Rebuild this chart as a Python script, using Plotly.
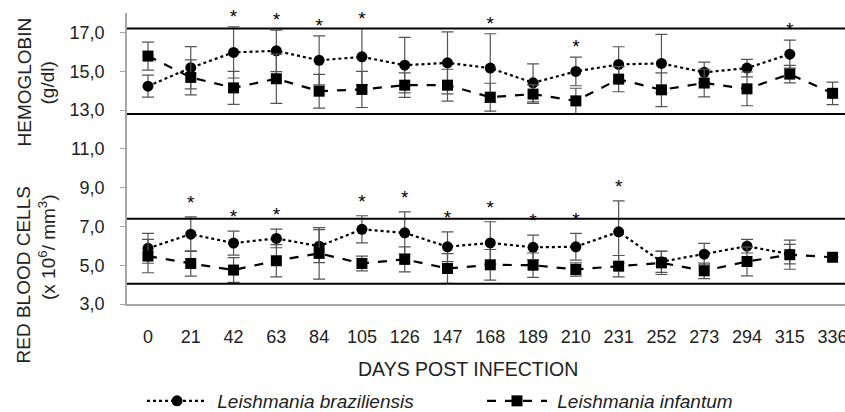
import plotly.graph_objects as go

days = [0, 21, 42, 63, 84, 105, 126, 147, 168, 189, 210, 231, 252, 273, 294, 315, 336]

braz_hb = [14.23, 15.18, 15.97, 16.05, 15.56, 15.74, 15.31, 15.43, 15.16, 14.40, 14.99, 15.35, 15.40, 14.94, 15.16, 15.88, None]
braz_hb_sd = [0.57, 1.09, 1.32, 1.07, 1.26, 1.46, 1.43, 1.60, 1.77, 0.98, 0.74, 0.91, 1.50, 0.53, 0.45, 0.72, None]
inf_hb = [15.78, 14.68, 14.14, 14.61, 13.97, 14.06, 14.28, 14.28, 13.66, 13.82, 13.47, 14.59, 14.04, 14.39, 14.09, 14.85, 13.86]
inf_hb_sd = [0.72, 0.90, 0.85, 1.27, 0.87, 0.93, 0.63, 0.82, 0.72, 0.48, 0.65, 0.65, 0.87, 0.71, 0.87, 0.45, 0.58]

braz_rbc = [5.87, 6.60, 6.14, 6.38, 5.98, 6.85, 6.67, 5.95, 6.15, 5.92, 5.95, 6.72, 5.18, 5.57, 5.98, 5.57, None]
braz_rbc_sd = [0.77, 0.89, 0.62, 0.48, 0.85, 0.70, 1.08, 0.77, 1.09, 0.63, 0.69, 1.60, 0.55, 0.55, 0.35, 0.50, None]
inf_rbc = [5.47, 5.09, 4.75, 5.23, 5.61, 5.09, 5.30, 4.83, 5.02, 5.00, 4.78, 4.95, 5.12, 4.71, 5.19, 5.54, 5.41]
inf_rbc_sd = [0.86, 0.65, 0.64, 0.83, 1.33, 0.38, 0.64, 0.77, 0.79, 0.63, 0.34, 0.55, 0.60, 0.40, 0.74, 0.75, 0.0]

hb_sig_days = [42, 63, 84, 105, 168, 210, 315]
rbc_sig_days = [21, 42, 63, 105, 126, 147, 168, 189, 210, 231]

hb_ref = [17.2, 12.8]
rbc_ref = [7.4, 4.05]

y_ticks = [3, 5, 7, 9, 11, 13, 15, 17]
y_ticktext = ["3,0", "5,0", "7,0", "9,0", "11,0", "13,0", "15,0", "17,0"]

FONT = "Liberation Sans, Arial, sans-serif"
ERR = "#555555"
TXT = "#222222"

fig = go.Figure()

def add_series(y, sd, name, symbol, dash, show):
    fig.add_trace(go.Scatter(
        x=days, y=y, name=name, legendgroup=name, showlegend=show,
        mode="lines+markers",
        line=dict(color="black", width=2.2, dash=dash),
        marker=dict(symbol=symbol, size=11, color="black"),
        error_y=dict(type="data", array=sd, visible=True, color=ERR, thickness=1.2, width=6),
    ))

add_series(braz_hb, braz_hb_sd, "\u00a0<i>Leishmania braziliensis</i>", "circle", "dot", True)
add_series(inf_hb, inf_hb_sd, "\u00a0<i>Leishmania infantum</i>", "square", "dash", True)
add_series(braz_rbc, braz_rbc_sd, "\u00a0<i>Leishmania braziliensis</i>", "circle", "dot", False)
add_series(inf_rbc, inf_rbc_sd, "\u00a0<i>Leishmania infantum</i>", "square", "dash", False)

def star_positions(sig_days, a, asd, b, bsd, gap):
    ys = []
    for d in sig_days:
        i = days.index(d)
        tops = []
        if a[i] is not None:
            tops.append(a[i] + asd[i])
        if b[i] is not None:
            tops.append(b[i] + bsd[i])
        ys.append(max(tops) + gap)
    return ys

for sig, a, asd, b, bsd, gap in [
    (hb_sig_days, braz_hb, braz_hb_sd, inf_hb, inf_hb_sd, 0.45),
    (rbc_sig_days, braz_rbc, braz_rbc_sd, inf_rbc, inf_rbc_sd, 0.65),
]:
    fig.add_trace(go.Scatter(
        x=sig, y=star_positions(sig, a, asd, b, bsd, gap), mode="text",
        text=["*"] * len(sig), textposition="middle center", cliponaxis=False,
        textfont=dict(family=FONT, size=19, color="black"),
        showlegend=False, hoverinfo="skip",
    ))

for v in hb_ref + rbc_ref:
    fig.add_shape(type="line", xref="x domain", yref="y", x0=0, x1=1, y0=v, y1=v,
                  line=dict(color="black", width=2))

fig.update_xaxes(
    range=[-10.3, 342.1], tickmode="array", tickvals=days, ticktext=[str(d) for d in days],
    showline=True, linecolor="#a6a6a6", linewidth=1.5, ticks="", showgrid=False,
    zeroline=False, tickfont=dict(family=FONT, size=18, color=TXT),
    ticklabelstandoff=16, automargin=False, ticklabeloverflow="allow",
)
fig.update_yaxes(
    range=[3, 18], tickmode="array", tickvals=y_ticks, ticktext=y_ticktext,
    showline=True, linecolor="#a6a6a6", linewidth=1.5, ticks="outside", ticklen=5,
    tickcolor="#a6a6a6", showgrid=False, zeroline=False,
    tickfont=dict(family=FONT, size=18, color=TXT), ticklabelstandoff=12, automargin=False,
)

ann_font = dict(family=FONT, size=19, color=TXT)
W = 845 - 127
H = 304 - 13
def px_x(p):
    return (p - 127) / W
def px_y(p):
    return (304 - p) / H

annotations = [
    dict(text="HEMOGLOBIN", x=px_x(24), y=px_y(82.5)),
    dict(text="(g/dl)", x=px_x(47), y=px_y(83.5)),
    dict(text="RED BLOOD CELLS", x=px_x(22.5), y=px_y(275)),
    dict(text="(x 10<sup>6</sup>/ mm<sup>3</sup>)", x=px_x(46.5), y=px_y(247.5)),
]
for a in annotations:
    fig.add_annotation(xref="paper", yref="paper", xanchor="center", yanchor="middle",
                       textangle=-90, showarrow=False, font=ann_font, **a)
fig.add_annotation(text="DAYS POST INFECTION", xref="paper", yref="paper", x=px_x(468), y=px_y(369),
                   xanchor="center", yanchor="middle", showarrow=False,
                   font=dict(family=FONT, size=19.5, color=TXT))

fig.update_layout(
    width=845, height=412,
    margin=dict(l=127, r=0, t=13, b=108, autoexpand=False),
    paper_bgcolor="white", plot_bgcolor="white",
    font=dict(family=FONT, size=18, color=TXT),
    legend=dict(orientation="h", x=px_x(142), y=px_y(401), xanchor="left", yanchor="middle",
                entrywidth=265, entrywidthmode="pixels", font=dict(family=FONT, size=19, color=TXT),
                bgcolor="rgba(0,0,0,0)", itemwidth=60),
)

fig.write_html("out.html", config={"displayModeBar": False},
               post_script="document.body.style.margin='0';")
